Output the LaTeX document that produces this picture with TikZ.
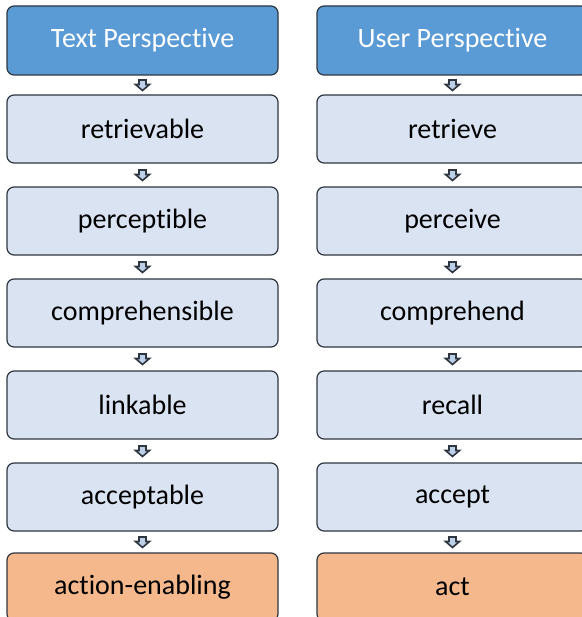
\documentclass[tikz,border=0pt]{standalone}
\usepackage{fontspec}
\setmainfont{Carlito}[Ligatures=NoCommon]
\definecolor{hdr}{HTML}{5B9BD5}
\definecolor{lite}{HTML}{D9E3F2}
\definecolor{orng}{HTML}{F4B88C}
\definecolor{edge}{HTML}{2E3640}
\definecolor{arrfill}{HTML}{BDD0EA}
\tikzset{
  box/.style={draw=edge, line width=1.2pt, rounded corners=7pt, minimum width=271pt, minimum height=68pt, font=\fontsize{28}{32}\selectfont, text=black, inner sep=0pt, fill=lite},
  header/.style={box, fill=hdr, text=white, minimum height=69pt},
  final/.style={box, fill=orng},
  blockarr/.style={draw=edge, fill=arrfill, line width=1.6pt, line join=miter},
}
\newcommand{\blkarrow}[2]{%
  \path ($(#1.south)!0.5!(#2.north)$) coordinate (m);
  \draw[blockarr] ($(m)+(-3.5pt,5pt)$) -- ($(m)+(3.5pt,5pt)$) -- ($(m)+(3.5pt,0.5pt)$) -- ($(m)+(7pt,0.5pt)$) -- ($(m)+(0pt,-5.5pt)$) -- ($(m)+(-7pt,0.5pt)$) -- ($(m)+(-3.5pt,0.5pt)$) -- cycle;}
\usetikzlibrary{calc}
\begin{document}
\begin{tikzpicture}[x=1pt,y=-1pt]
\useasboundingbox (0,0) rectangle (581,617);
\node[header] (t0) at (142.5,40.5) {Text Perspective};
\node[box] (t1) at (142.5,129) {retrievable};
\node[box] (t2) at (142.5,221) {perceptible};
\node[box] (t3) at (142.5,313) {comprehensible};
\node[box] (t4) at (142.5,405) {linkable};
\node[box] (t5) at (142.5,497) {acceptable};
\node[final] (t6) at (142.5,587) {action-enabling};
\node[header] (u0) at (452.5,40.5) {User Perspective};
\node[box] (u1) at (452.5,129) {retrieve};
\node[box] (u2) at (452.5,221) {perceive};
\node[box] (u3) at (452.5,313) {comprehend};
\node[box] (u4) at (452.5,405) {recall};
\node[box] (u5) at (452.5,497) {accept};
\node[final] (u6) at (452.5,587) {act};
\blkarrow{t0}{t1}\blkarrow{t1}{t2}\blkarrow{t2}{t3}\blkarrow{t3}{t4}\blkarrow{t4}{t5}\blkarrow{t5}{t6}
\blkarrow{u0}{u1}\blkarrow{u1}{u2}\blkarrow{u2}{u3}\blkarrow{u3}{u4}\blkarrow{u4}{u5}\blkarrow{u5}{u6}
\end{tikzpicture}
\end{document}
